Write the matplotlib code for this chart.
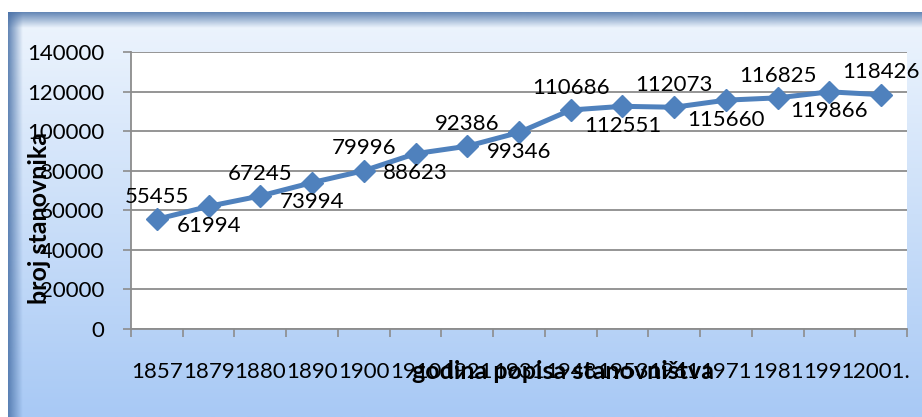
import numpy as np
import matplotlib.pyplot as plt
from matplotlib.colors import to_rgb

plt.rcParams['font.family'] = ['Lato', 'DejaVu Sans']

# podaci: godine popisa i broj stanovnika
godine = ['1857', '1879', '1880', '1890', '1900', '1910', '1921', '1931',
          '1948', '1953', '1961', '1971', '1981', '1991', '2001.']
stanovnici = [55455, 61994, 67245, 73994, 79996, 88623, 92386, 99346,
              110686, 112551, 112073, 115660, 116825, 119866, 118426]

W, H = 922, 417
fig = plt.figure(figsize=(W / 100, H / 100), dpi=100)

# pozadina s gradijentom (okvir grafikona)
bg = fig.add_axes([0, 0, 1, 1])
bg.set_xlim(0, W)
bg.set_ylim(H, 0)
bg.axis('off')
top_c = np.array(to_rgb('#eef5fd'))
bot_c = np.array(to_rgb('#a8c9f5'))
t = np.linspace(0, 1, 200)[:, None, None]
grad = top_c * (1 - t) + bot_c * t
bg.imshow(grad, extent=[8, W, H, 12], aspect='auto', zorder=0)

# tamniji rub lijevo i gore
edge = np.array(to_rgb('#4a72a8'))
a = np.linspace(0.85, 0, 40)
left = np.zeros((1, 40, 4))
left[..., :3] = edge
left[..., 3] = a
bg.imshow(left, extent=[8, 22, H, 12], aspect='auto', zorder=1)
topb = np.zeros((40, 1, 4))
topb[..., :3] = edge
topb[..., 3] = a[:, None]
bg.imshow(topb, extent=[8, W, 28, 12], aspect='auto', zorder=1)

# glavni grafikon
ax = fig.add_axes([131 / W, (H - 329) / H, 776 / W, 277 / H])
ax.set_facecolor('white')
x = np.arange(len(godine))
ax.plot(x, stanovnici, color='#4f81bd', lw=3.6, marker='D', ms=11,
        markeredgecolor='#4f81bd', zorder=3)

for i, v in enumerate(stanovnici):
    dy = 16 if i % 2 == 0 else -14
    ax.annotate(str(v), (i, v), xytext=(0, dy), textcoords='offset points',
                ha='center', va='center', fontsize=16, color='black', zorder=4)

ax.set_xlim(-0.5, len(godine) - 0.5)
ax.set_ylim(0, 140000)
ax.set_yticks(np.arange(0, 140001, 20000))
ax.set_xticks(x)
ax.set_xticklabels(godine, fontsize=16)
ax.set_xticks(np.arange(-0.5, len(godine)), minor=True)
ax.tick_params(axis='x', which='major', length=0, pad=24)
ax.tick_params(axis='x', which='minor', length=6, width=1.2, color='#8c8c8c', direction='out')
ax.tick_params(axis='y', length=6, width=1.2, color='#8c8c8c', labelsize=16, pad=13)
ax.grid(axis='y', color='#8c8c8c', lw=1.3)
ax.set_axisbelow(True)
for s in ['top', 'right']:
    ax.spines[s].set_visible(False)
for s in ['left', 'bottom']:
    ax.spines[s].set_color('#8c8c8c')
    ax.spines[s].set_linewidth(1.3)

fig.text(0.043, 0.477, 'broj stanovnika', rotation=90, ha='center', va='center',
         fontsize=18, fontweight='bold')
fig.text(0.611, 0.108, 'godina popisa stanovništva', ha='center', va='center',
         fontsize=18, fontweight='bold')

fig.savefig('out.png', dpi=100)
